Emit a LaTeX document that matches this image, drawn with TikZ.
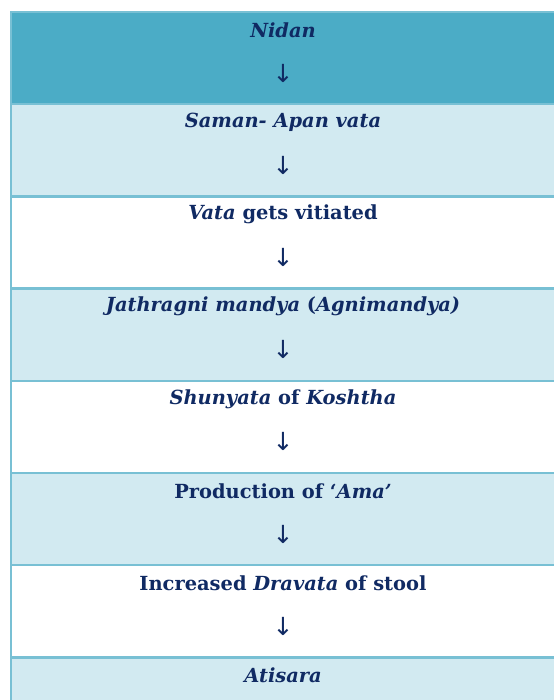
\documentclass[tikz,border=0pt]{standalone}
\usepackage{fontspec}
\setmainfont{DejaVu Serif}
\newfontfamily\arrowfont{DejaVu Sans}
\usetikzlibrary{positioning}
\definecolor{HeadTeal}{HTML}{4BACC6}
\definecolor{RowTeal}{HTML}{D2EAF1}
\definecolor{RuleTeal}{HTML}{78C0D4}
\definecolor{TextNavy}{HTML}{102A63}

\begin{document}
\begin{tikzpicture}[x=1bp, y=-1bp,
    steptext/.style={text=TextNavy, font=\bfseries\fontsize{19.5}{22}\selectfont, inner sep=0pt},
    downarrow/.style={text=TextNavy, font=\arrowfont\fontsize{25}{28}\selectfont, inner sep=0pt}]
    \useasboundingbox (0,0) rectangle (554,700);
    \clip (0,0) rectangle (554,700);

    % Row fills
    \fill[HeadTeal] (11,12) rectangle (556,104.2);
    \foreach \top in {104.2, 288.6, 473, 657.4} {
        \fill[RowTeal] (11,\top) rectangle (556,\top+92.2);
    }

    % Rules
    \foreach \top in {12, 104.2, 196.4, 288.6, 380.8, 473, 565.2, 657.4} {
        \draw[RuleTeal, line width=2.5bp] (10,\top) -- (556,\top);
    }
    \draw[RuleTeal, line width=2.5bp] (11,11) -- (11,700);

    % Steps
    \node[steptext] (step1) at (283,30) {\textit{Nidan}};
    \node[steptext] (step2) at (283,122.2) {\textit{Saman- Apan vata}};
    \node[steptext] (step3) at (283,214.4) {\textit{Vata} gets vitiated};
    \node[steptext] (step4) at (283,306.6) {\textit{Jathragni mandya} (\textit{Agnimandya)}};
    \node[steptext] (step5) at (283,398.8) {\textit{Shunyata} of \textit{Koshtha}};
    \node[steptext] (step6) at (283,491) {Production of ‘\textit{Ama’}};
    \node[steptext] (step7) at (283,583.2) {Increased \textit{Dravata} of stool};
    \node[steptext] (step8) at (283,675.4) {\textit{Atisara}};

    % Arrows between steps
    \foreach \i/\top in {1/12, 2/104.2, 3/196.4, 4/288.6, 5/380.8, 6/473, 7/565.2} {
        \node[downarrow] (arr\i) at (283,\top+61) {↓};
    }
\end{tikzpicture}
\end{document}
